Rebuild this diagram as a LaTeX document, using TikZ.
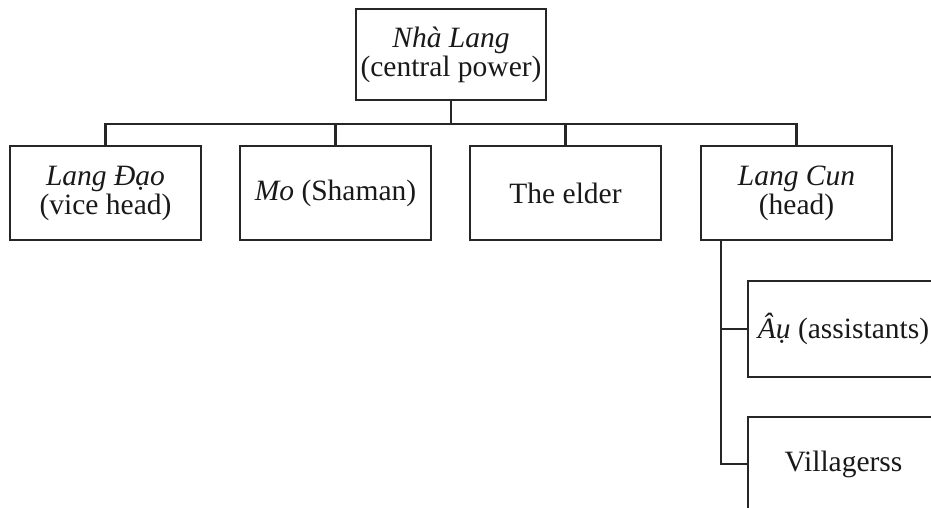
\documentclass[tikz,border=0pt]{standalone}
\usepackage{fontspec}
\setmainfont{Liberation Serif}
\begin{document}
\begin{tikzpicture}[x=1pt,y=-1pt,
  box/.style={draw=black!85, line width=2.7pt, rectangle, minimum width=191pt, minimum height=94pt,
    inner sep=0pt, align=center, font=\fontsize{29.5}{29}\selectfont, text=black!90},
  conn/.style={draw, line width=2.7pt, black!85}]
\useasboundingbox (0,0) rectangle (931,507);
\clip (0,0) rectangle (931,507);
\node[box, minimum width=190pt, minimum height=91pt] (top) at (451,54.5) {\textit{Nhà Lang}\\(central power)};
\node[box] (b1) at (105.5,193) {\textit{Lang Đạo}\\(vice head)};
\node[box] (b2) at (335.5,193) {\textit{Mo} (Shaman)};
\node[box] (b3) at (565.5,193) {The elder};
\node[box] (b4) at (796.5,193) {\textit{Lang Cun}\\(head)};
\node[box, minimum height=96pt] (b5) at (843.5,329) {\textit{Âụ} (assistants)};
\node[box] (b6) at (843.5,464) {Villagerss};
\coordinate (bus) at (451,124);
\coordinate (trunk) at (721,240);
\draw[conn] (top.south) -- (bus);
\draw[conn] (b1.north) -- (b1.north |- bus) -- (b4.north |- bus) -- (b4.north);
\draw[conn] (b2.north) -- (b2.north |- bus);
\draw[conn] (b3.north) -- (b3.north |- bus);
\draw[conn] (trunk) |- (b6.west);
\draw[conn] (trunk |- b5.west) -- (b5.west);
\end{tikzpicture}
\end{document}
